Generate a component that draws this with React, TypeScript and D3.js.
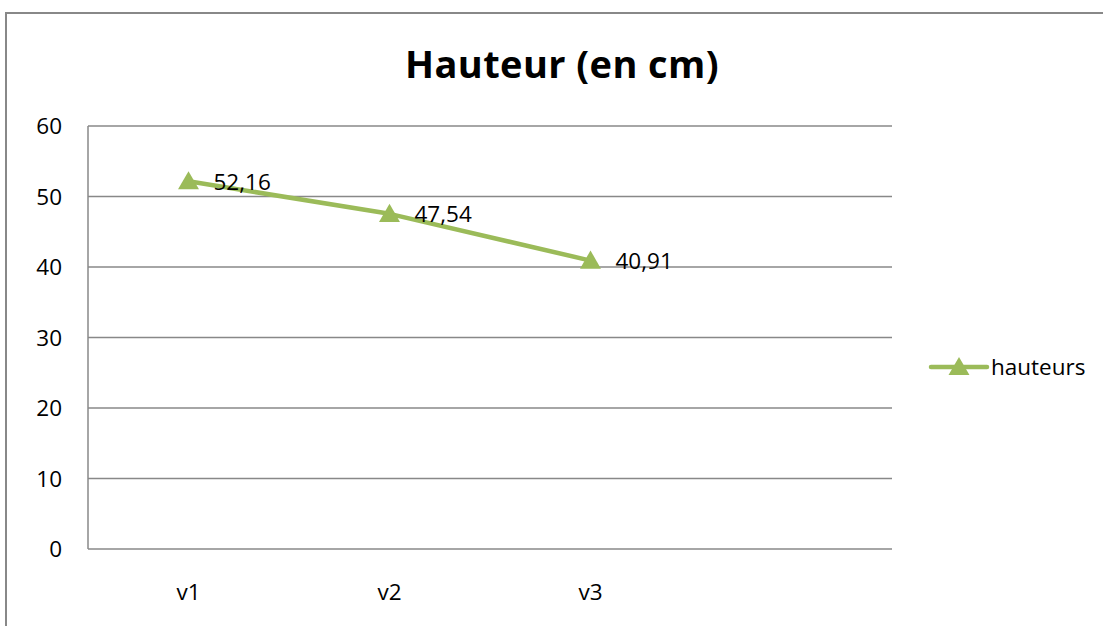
import React from "react";
import * as d3 from "d3";

const categories = ["v1", "v2", "v3", ""];
const values = [52.16, 47.54, 40.91];
const labels = ["52,16", "47,54", "40,91"];
const yTicks = [0, 10, 20, 30, 40, 50, 60];
const seriesName = "hauteurs";
const title = "Hauteur (en cm)";

export default function App() {
  const W = 1103, H = 626;
  const left = 88, right = 892, top = 126, bottom = 549;
  const x = d3.scaleBand<string>().domain(categories).range([left, right]);
  const y = d3.scaleLinear().domain([0, 60]).range([bottom, top]);
  const green = "#9BBB59";
  const font = "'Open Sans', sans-serif";
  const fs = 22.5;
  const pts = values.map((v, i) => [x(categories[i])! + x.bandwidth() / 2, y(v)] as [number, number]);
  const line = d3.line()(pts) || "";
  const tri = d3.symbol().type(d3.symbolTriangle).size(190)() || "";
  return (
    <svg width={W} height={H} style={{ position: "absolute", left: 0, top: 0 }}>
      <rect x={0} y={0} width={W} height={H} fill="white" />
      <rect x={6} y={13} width={W + 20} height={H + 20} fill="white" stroke="#888" strokeWidth={2} />
      <text x={562} y={78} textAnchor="middle" fontFamily={font} fontWeight="bold" fontSize={38} letterSpacing={0.4} fill="#000">{title}</text>
      {yTicks.map((t) => (
        <g key={t}>
          <line x1={left} x2={right} y1={y(t)} y2={y(t)} stroke="#888" strokeWidth={1.5} />
          <text x={62} y={y(t) + 8} textAnchor="end" fontFamily={font} fontSize={fs} fill="#000">{t}</text>
        </g>
      ))}
      <line x1={left} x2={left} y1={top} y2={bottom} stroke="#888" strokeWidth={1.5} />
      {categories.map((c) => (
        <text key={c} x={x(c)! + x.bandwidth() / 2} y={600} textAnchor="middle" fontFamily={font} fontSize={fs} fill="#000">{c}</text>
      ))}
      <path d={line} fill="none" stroke={green} strokeWidth={4.5} strokeLinejoin="round" />
      {pts.map((p, i) => (
        <g key={i}>
          <path d={tri} transform={`translate(${p[0]},${p[1] + 2})`} fill={green} />
          <text x={p[0] + 25} y={p[1] + 8.5} fontFamily={font} fontSize={fs} fill="#000">{labels[i]}</text>
        </g>
      ))}
      <line x1={931} x2={987} y1={367} y2={367} stroke={green} strokeWidth={4.5} strokeLinecap="round" />
      <path d={tri} transform={`translate(959,369)`} fill={green} />
      <text x={991} y={375} fontFamily={font} fontSize={fs} fill="#000">{seriesName}</text>
    </svg>
  );
}
